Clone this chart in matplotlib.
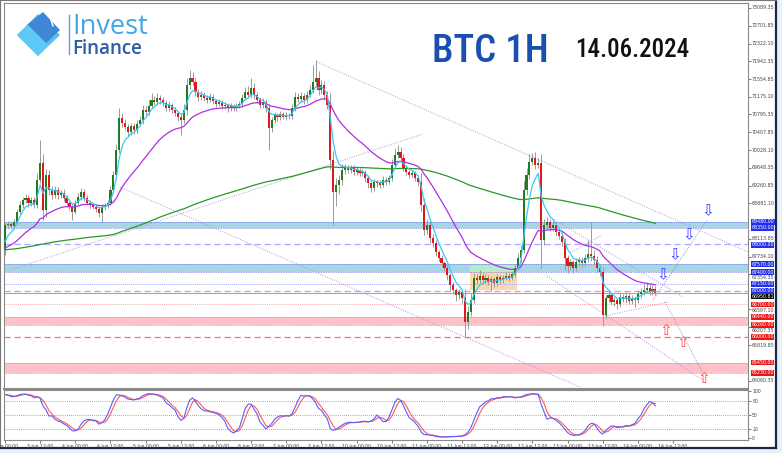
import numpy as np
import matplotlib.pyplot as plt
from matplotlib import font_manager
from matplotlib.patches import Rectangle, Polygon

W, H = 782, 453

# BTCUSD H1, 3 Jun 00:00 .. 14 Jun 06:00 (weekend bars skipped)
first_open = 67874
closes = [
    68413, 68430, 68390, 68480, 68700, 68840, 68950, 69000, 68890, 68950, 68840, 69380,
    69750, 68740, 69490, 69170, 69060, 69170, 69060, 69100, 69000, 68890, 68800, 68700,
    68890, 69020, 69120, 69000, 68890, 68840, 68800, 68760, 68670, 68800, 68840, 68890,
    69170, 69490, 70030, 70720, 70610, 70525, 70420, 70545, 70460, 70590, 70675, 70890,
    70850, 70980, 71106, 71060, 71150, 71106, 71040, 70930, 70999, 70890, 70825, 70740,
    70675, 70890, 71430, 71580, 71495, 71280, 71170, 71214, 71150, 71106, 71170, 71085,
    71020, 71060, 70980, 70999, 70930, 70975, 70930, 70975, 71020, 71150, 71280, 71214,
    71365, 71214, 71106, 70999, 71060, 70930, 70500, 70675, 70780, 70740, 70800, 70740,
    70780, 70760, 70930, 71170, 71130, 71190, 71106, 71214, 71320, 71495, 71580, 71320,
    71430, 71214, 70999, 69813, 69125, 69275, 69380, 69600, 69640, 69600, 69640, 69555,
    69600, 69535, 69555, 69425, 69320, 69210, 69340, 69320, 69275, 69380, 69340, 69425,
    69706, 69920, 69985, 69855, 69640, 69555, 69490, 69535, 69425, 69340, 68844, 68305,
    68413, 68130, 68025, 67830, 67700, 67595, 67485, 67335, 67120, 67012, 66905, 66970,
    66840, 66320, 66540, 66795, 67270, 67230, 67315, 67230, 67270, 67185, 67250, 67165,
    67290, 67230, 67270, 67315, 67270, 67355, 67485, 67700, 67874, 69167, 69490, 69770,
    69855, 69706, 69750, 68090, 68413, 68475, 68350, 68413, 68260, 68175, 68045, 67700,
    67530, 67615, 67485, 67615, 67658, 67595, 67700, 67787, 67745, 67658, 67485, 67400,
    66473, 66840, 66905, 66755, 66795, 66710, 66860, 66820, 66880, 66775, 66840, 66795,
    66925, 66970, 67012, 67055, 66970, 67035, 66951,
]
up_wick = [
    50, 80, 60, 70, 60, 90, 70, 80, 60, 70, 60, 150,
    490, 200, 120, 100, 80, 90, 70, 60, 80, 60, 50, 60,
    70, 80, 90, 60, 50, 60, 50, 60, 40, 60, 50, 60,
    80, 90, 120, 220, 100, 80, 60, 70, 60, 80, 90, 100,
    90, 120, 150, 80, 100, 70, 60, 60, 80, 50, 60, 50,
    60, 120, 150, 170, 120, 80, 60, 90, 70, 60, 80, 60,
    50, 60, 50, 70, 50, 60, 50, 60, 70, 90, 100, 120,
    215, 100, 60, 70, 80, 60, 80, 70, 60, 50, 60, 50,
    60, 50, 90, 100, 80, 90, 60, 90, 120, 370, 390, 150,
    100, 80, 90, 250, 200, 150, 100, 120, 80, 70, 60, 60,
    60, 50, 60, 50, 60, 50, 60, 50, 60, 80, 60, 70,
    120, 150, 150, 100, 80, 60, 50, 60, 50, 60, 200, 150,
    120, 100, 80, 60, 50, 60, 40, 60, 50, 60, 50, 70,
    60, 200, 120, 150, 100, 80, 120, 60, 80, 60, 70, 50,
    60, 50, 60, 80, 60, 70, 80, 120, 100, 200, 150, 180,
    120, 130, 100, 200, 120, 100, 60, 80, 60, 50, 60, 80,
    60, 70, 50, 80, 60, 60, 80, 300, 690, 120, 80, 60,
    100, 60, 80, 50, 60, 50, 80, 60, 90, 60, 70, 50,
    80, 90, 120, 100, 90, 80, 60,
]
dn_wick = [
    110, 60, 50, 60, 40, 60, 70, 60, 80, 60, 70, 50,
    60, 220, 150, 120, 80, 70, 90, 60, 80, 70, 60, 170,
    60, 50, 60, 80, 50, 60, 50, 60, 90, 200, 60, 50,
    40, 60, 80, 60, 90, 70, 80, 60, 90, 60, 50, 80,
    60, 70, 50, 60, 70, 80, 60, 70, 50, 60, 70, 90,
    320, 60, 100, 80, 60, 90, 80, 60, 70, 60, 50, 60,
    60, 50, 70, 60, 80, 60, 50, 60, 50, 60, 50, 60,
    60, 80, 60, 70, 60, 80, 470, 90, 60, 80, 60, 50,
    60, 70, 60, 50, 60, 60, 80, 60, 50, 60, 80, 100,
    80, 100, 90, 200, 710, 300, 200, 100, 80, 70, 60, 70,
    60, 70, 60, 80, 120, 90, 60, 80, 60, 50, 60, 50,
    60, 50, 60, 80, 60, 70, 60, 50, 60, 80, 120, 100,
    80, 100, 90, 80, 60, 80, 70, 100, 120, 90, 120, 80,
    100, 320, 150, 80, 60, 90, 60, 80, 70, 60, 200, 80,
    60, 80, 60, 50, 60, 50, 60, 50, 80, 60, 100, 80,
    60, 80, 60, 600, 100, 80, 60, 70, 80, 60, 80, 250,
    150, 80, 100, 70, 80, 90, 70, 80, 100, 80, 90, 80,
    230, 90, 80, 60, 80, 100, 60, 70, 80, 60, 70, 150,
    60, 80, 70, 60, 70, 60, 50,
]

date_labels = ['3 Jun 00:00', '3 Jun 12:00', '4 Jun 00:00', '4 Jun 12:00',
               '5 Jun 00:00', '5 Jun 12:00', '6 Jun 00:00', '6 Jun 12:00',
               '7 Jun 00:00', '7 Jun 12:00', '10 Jun 00:00', '10 Jun 12:00',
               '11 Jun 00:00', '11 Jun 12:00', '12 Jun 00:00', '12 Jun 12:00',
               '13 Jun 00:00', '13 Jun 12:00', '14 Jun 00:00', '14 Jun 12:00']
price_ticks = [73089.35, 72701.85, 72322.10, 71942.35, 71554.85, 71175.10,
               70795.35, 70407.85, 70028.10, 69648.35, 69260.85, 68881.10,
               68113.85, 67734.10, 67354.35, 66597.10, 66207.35, 65819.85,
               65060.35]

# support / resistance levels
blue_bands = [(68350, 68480), (67400, 67570)]
red_bands = [(66260, 66440), (65230, 65450)]
blue_dashed = [68000, 67000]
blue_dotted = [67150]
red_dashed = [66000]
red_dotted = [66700]
blue_tags = [68480, 68350, 68000, 67570, 67400, 67150, 67000]
red_tags = [66700, 66440, 66260, 66000, 65450, 65230]
last_price = 66950.81

# trend lines: (bar, price) -> (bar, price)
trend_lines = [((106.5, 71925), (262, 67600)),
               ((1.7, 67443), (142.7, 70375)),
               ((39.2, 69231), (196.2, 64921)),
               ((186, 68585), (231.4, 66861)),
               ((185, 67314), (238.6, 65052)),
               ((204.8, 66452), (226.3, 66754)),
               ((192.8, 67809), (203.8, 68197))]
path_up = ((221.2, 66796), (239.6, 68520))
path_down = ((225.3, 66753), (238.2, 65223))
down_arrows = [(224.6, 67335), (228.7, 67766), (233.5, 68197), (239.8, 68715)]
up_arrows = [(225.6, 66150), (231.4, 65891), (238.6, 65116)]
range_box = (158.7, 174.7, 67012, 67551)

# ---------------------------------------------------------------
closes = np.array(closes, float)
opens = np.r_[first_open, closes[:-1]]
highs = np.maximum(opens, closes) + np.array(up_wick)
lows = np.minimum(opens, closes) - np.array(dn_wick)
n = len(closes)
idx = np.arange(n)


def ema(x, period, seed):
    a = 2.0 / (period + 1)
    out, v = [], seed
    for p in x:
        v += a * (p - v)
        out.append(v)
    return np.array(out)


def stochastic(h, l, c, k=14, slow=3, d=3):
    num, den = [], []
    for i in range(len(c)):
        lo = l[max(0, i - k + 1):i + 1].min()
        hi = h[max(0, i - k + 1):i + 1].max()
        num.append(c[i] - lo)
        den.append(hi - lo)
    num, den = np.array(num), np.array(den)
    kk = np.array([num[max(0, i - slow + 1):i + 1].sum() / den[max(0, i - slow + 1):i + 1].sum() * 100
                   for i in range(len(c))])
    dd = np.array([kk[max(0, i - d + 1):i + 1].mean() for i in range(len(c))])
    return kk, dd


names = {f.name for f in font_manager.fontManager.ttflist}


def pick(*cands):
    for c in cands:
        if c in names:
            return c
    return 'DejaVu Sans'


cond_font = pick('Roboto Condensed', 'Liberation Sans Narrow', 'DejaVu Sans Condensed', 'Roboto')
logo_font = pick('Open Sans', 'Lato', 'Roboto')

fig = plt.figure(figsize=(W / 100, H / 100), dpi=100, facecolor='#e9f0f6')


def px_axes(x0, y0, x1, y1, **kw):
    return fig.add_axes([x0 / W, 1 - y1 / H, (x1 - x0) / W, (y1 - y0) / H], **kw)


bg = px_axes(0, 0, 776, 448)
bg.set_xticks([])
bg.set_yticks([])
for s in ['right', 'bottom']:
    bg.spines[s].set_color('#1b2748')
    bg.spines[s].set_linewidth(1.6)
for s in ['left', 'top']:
    bg.spines[s].set_color('#777777')

ax = px_axes(4, 3, 748, 389)
sx = px_axes(4, 390, 748, 440)
xl = (-0.35, 253.6)

# levels
for lo, hi in blue_bands:
    ax.axhspan(lo, hi, color='#a8d5e3', lw=0, zorder=1)
    for v in (lo, hi):
        ax.axhline(v, color='#6f7cf0', lw=0.6, ls=(0, (1, 1)), zorder=1.2)
for lo, hi in red_bands:
    ax.axhspan(lo, hi, color='#ffc1c9', lw=0, zorder=1)
    for v in (lo, hi):
        ax.axhline(v, color='#ff7a7a', lw=0.6, ls=(0, (1, 1)), zorder=1.2)
for v in blue_dashed:
    ax.axhline(v, color='#a9a9ff', lw=0.9, ls=(0, (5, 3)), zorder=1.2)
for v in blue_dotted:
    ax.axhline(v, color='#a9a9ff', lw=0.7, ls=(0, (1, 1)), zorder=1.2)
for v in red_dashed:
    ax.axhline(v, color='#ff7070', lw=0.9, ls=(0, (5, 3)), zorder=1.2)
for v in red_dotted:
    ax.axhline(v, color='#ffaaaa', lw=0.7, ls=(0, (1, 1)), zorder=1.2)
ax.axhline(last_price, color='#f08a80', lw=0.8, zorder=1.2)

# consolidation box
bx0, bx1, by0, by1 = range_box
ax.add_patch(Rectangle((bx0, by0), bx1 - bx0, by1 - by0, fc='#fbd9ad', ec='none', zorder=1.1))
for lo, hi in blue_bands:
    top, bot = min(hi, by1), max(lo, by0)
    if top > bot:
        ax.add_patch(Rectangle((bx0, bot), bx1 - bx0, top - bot, fc='#b3ecc8', ec='none', zorder=1.15))

# trend lines
for (x0, y0), (x1, y1) in trend_lines:
    ax.plot([x0, x1], [y0, y1], color='#b193dd', lw=0.7, ls=(0, (1, 1.5)), zorder=1.5)
for (x0, y0), (x1, y1) in (path_up, path_down):
    ax.plot([x0, x1], [y0, y1], color='#8c8cc8', lw=0.7, ls=(0, (1, 1.5)), zorder=1.5)
for x, y in down_arrows:
    ax.text(x, y, '\u21e9', color='#3b3bff', fontsize=11, ha='center', va='center', zorder=4)
for x, y in up_arrows:
    ax.text(x, y, '\u21e7', color='#ff4a4a', fontsize=11, ha='center', va='center', zorder=4)

# candles
ax.vlines(idx, lows, highs, color='#9a9a9a', lw=0.7, zorder=2)
bull = closes >= opens
body_lo = np.minimum(opens, closes)
body_h = np.maximum(np.abs(closes - opens), 12)
ax.bar(idx[bull], body_h[bull], bottom=body_lo[bull], width=0.72, color='#1f7d1f', lw=0, zorder=3)
ax.bar(idx[~bull], body_h[~bull], bottom=body_lo[~bull], width=0.72, color='#e3171b', lw=0, zorder=3)

# moving averages
ax.plot(idx, ema(closes, 200, first_open), color='#2a962a', lw=0.9, zorder=3.5)
ax.plot(idx, ema(closes, 26, first_open), color='#b12fe0', lw=0.9, zorder=3.5)
ax.plot(idx, ema(closes, 5, first_open), color='#3ec6f2', lw=0.9, zorder=3.5)

ax.set_xlim(*xl)
ax.set_ylim(64879, 73197)
ax.set_xticks([])
ax.yaxis.tick_right()
ax.set_yticks(price_ticks)
ax.set_yticklabels([])
ax.tick_params(axis='y', length=2, colors='#444444', width=0.5)
for s in ax.spines.values():
    s.set_color('#8a8a8a')
    s.set_linewidth(0.8)
ax.spines['bottom'].set_linewidth(1.5)

# right-hand price scale: grey ticks + coloured level tags, nudged apart
labels = [(v, '#444444', None) for v in price_ticks]
labels += [(v, 'white', '#2230ee') for v in blue_tags]
labels += [(v, 'white', '#ee1414') for v in red_tags]
labels += [(last_price, 'white', 'black')]
labels.sort(key=lambda t: -t[0])
min_gap = 128
tr = ax.get_yaxis_transform()
prev = None
for v, fg, bgc in labels:
    pos = v if prev is None else min(v, prev - min_gap)
    prev = pos
    kw = dict(transform=tr, fontsize=3.4, color=fg, va='center', ha='left', clip_on=False, zorder=6)
    if bgc:
        kw['bbox'] = dict(boxstyle='square,pad=0.1', fc=bgc, ec='none')
    ax.text(1.0045, pos, f'{v:.2f}', **kw)

# stochastic
k_line, d_line = stochastic(highs, lows, closes)
for lvl in (20, 50, 80):
    sx.axhline(lvl, color='#888888', lw=0.6, ls=(0, (1, 1.5)))
sx.plot(idx, d_line, color='#ff5a5a', lw=0.8)
sx.plot(idx, k_line, color='#5c5cff', lw=0.8)
sx.set_xlim(*xl)
sx.set_ylim(-3.3, 102.2)
sx.yaxis.tick_right()
sx.set_yticks([0, 20, 50, 80, 100])
sx.set_xticks(np.arange(len(date_labels)) * 12)
sx.set_xticklabels(date_labels)
sx.tick_params(labelsize=3.3, length=2, pad=1, colors='#444444', width=0.5)
for s in sx.spines.values():
    s.set_color('#8a8a8a')
    s.set_linewidth(0.8)

# overlay: logo and title
ov = fig.add_axes([0, 0, 1, 1], zorder=10)
ov.set_xlim(0, W)
ov.set_ylim(H, 0)
ov.axis('off')
ov.patch.set_alpha(0)
ov.add_patch(Polygon([(17, 35), (38, 14), (60, 35), (38, 56)], closed=True, fc='#52c3f1', ec='none'))
ov.add_patch(Polygon([(27, 25), (43, 12), (60, 30), (44, 45)], closed=True, fc='#3f86d4', ec='none'))
ov.add_patch(Polygon([(38, 56), (17, 35), (28, 25), (48, 45)], closed=True, fc='#5ccaf4', ec='none'))
ov.plot([51, 53], [20, 26], color='white', lw=1.0)
ov.plot([69, 69], [15, 54], color='#4aa9e2', lw=1.0)
ov.text(72, 33.5, 'Invest', fontsize=19.5, color='#45a7e0', family=logo_font, weight='medium',
        ha='left', va='baseline')
ov.text(72, 54.5, 'Finance', fontsize=13.5, color='#2c5ca7', family=logo_font, weight='semibold',
        ha='left', va='baseline')
ov.text(432, 62, 'BTC 1H', fontsize=28, color='#1a4fb0', family=cond_font, weight='medium',
        ha='left', va='baseline')
ov.text(575, 57, '14.06.2024', fontsize=18, color='#111111', family=cond_font, weight='medium',
        ha='left', va='baseline')

fig.savefig('out.png', dpi=100, facecolor=fig.get_facecolor())
